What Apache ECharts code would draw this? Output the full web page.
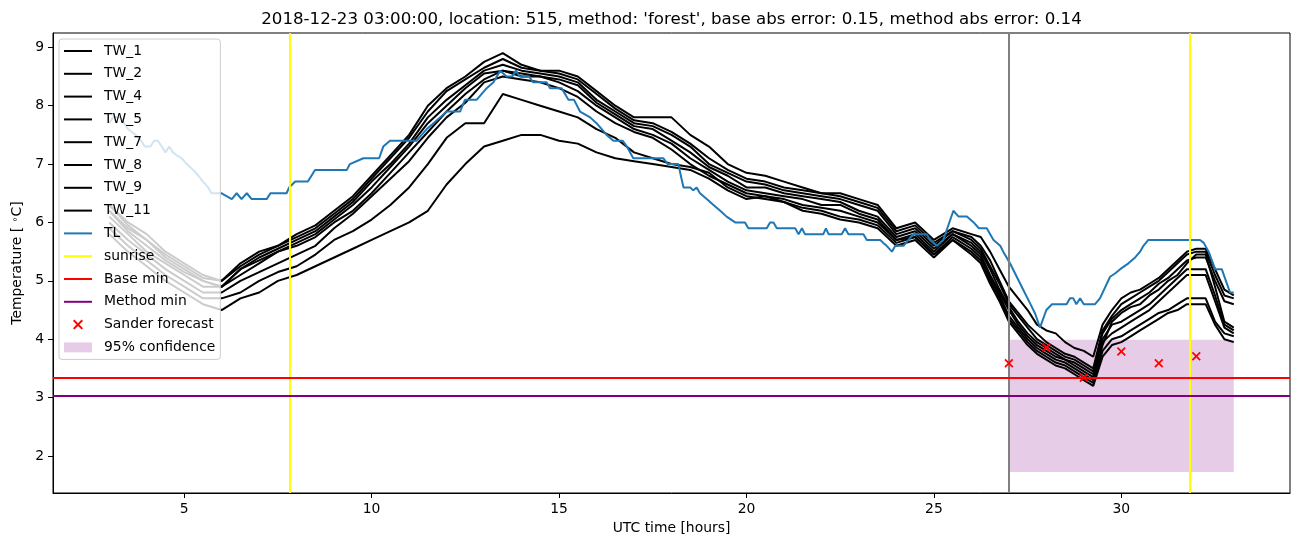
<!DOCTYPE html>
<html><head><meta charset="utf-8">
<script src="https://cdn.jsdelivr.net/npm/echarts@6/dist/echarts.min.js"></script>
<style>html,body{margin:0;padding:0;background:#fff}#c{width:1302px;height:547px}</style>
</head><body><div id="c"></div>
<script>
// ---------- data ----------
const hours = [3,3.5,4,4.5,5,5.5,6,6.5,7,7.5,8,8.5,9,9.5,10,10.5,11,11.5,12,12.5,13,13.5,14,14.5,15,15.5,16,16.5,17,17.5,18,18.5,19,19.5,20,20.5,21,21.5,22,22.5,23,23.5,24,24.5,25,25.5,26,26.25,26.5,26.75,27,27.25,27.5,27.75,28,28.25,28.5,28.75,29,29.25,29.5,29.75,30,30.25,30.5,30.75,31,31.25,31.5,31.75,32,32.25,32.5,32.75,33];
const tw1  = [6.3,6.0,5.8,5.5,5.3,5.1,5.0,5.3,5.5,5.6,5.8,5.95,6.2,6.45,6.8,7.15,7.5,8.0,8.3,8.5,8.75,8.9,8.7,8.6,8.6,8.5,8.25,8.0,7.8,7.8,7.8,7.5,7.3,7.0,6.85,6.8,6.7,6.6,6.5,6.5,6.4,6.3,5.9,6.0,5.7,5.9,5.8,5.75,5.5,5.2,4.9,4.7,4.5,4.25,4.15,4.1,3.95,3.85,3.8,3.7,4.25,4.5,4.7,4.8,4.85,4.95,5.05,5.2,5.35,5.5,5.55,5.55,5.2,4.85,4.75];
const tw2  = [6.3,5.95,5.7,5.45,5.25,5.05,5.0,5.25,5.45,5.6,5.75,5.9,6.15,6.4,6.75,7.1,7.45,7.9,8.25,8.45,8.65,8.8,8.65,8.6,8.55,8.45,8.2,7.95,7.75,7.7,7.55,7.35,7.1,6.9,6.75,6.7,6.6,6.55,6.5,6.45,6.35,6.25,5.85,5.95,5.65,5.85,5.75,5.6,5.35,5.0,4.65,4.45,4.25,4.1,3.95,3.85,3.75,3.7,3.6,3.5,4.15,4.4,4.6,4.7,4.8,4.9,5.0,5.15,5.3,5.45,5.5,5.5,5.1,4.75,4.7];
const tw4  = [6.2,5.9,5.7,5.4,5.2,5.0,4.9,5.2,5.4,5.55,5.7,5.85,6.1,6.35,6.7,7.0,7.35,7.8,8.1,8.35,8.6,8.7,8.6,8.55,8.5,8.4,8.1,7.9,7.7,7.65,7.5,7.3,7.0,6.85,6.7,6.65,6.55,6.5,6.45,6.4,6.3,6.2,5.8,5.9,5.6,5.85,5.7,5.55,5.25,4.95,4.6,4.4,4.2,4.0,3.9,3.8,3.7,3.65,3.55,3.45,4.1,4.35,4.5,4.6,4.7,4.8,4.95,5.05,5.2,5.35,5.4,5.4,5.0,4.65,4.6];
const tw5  = [6.2,5.85,5.6,5.35,5.15,5.0,4.9,5.2,5.35,5.5,5.65,5.8,6.05,6.3,6.6,6.95,7.3,7.7,8.0,8.3,8.55,8.6,8.55,8.5,8.45,8.35,8.05,7.85,7.65,7.6,7.4,7.2,6.95,6.8,6.6,6.6,6.5,6.45,6.4,6.35,6.2,6.1,5.75,5.85,5.55,5.8,5.65,5.5,5.2,4.85,4.55,4.3,4.1,3.95,3.85,3.75,3.65,3.6,3.5,3.4,4.0,4.25,4.3,4.4,4.5,4.6,4.75,4.9,5.05,5.2,5.2,5.2,4.75,4.25,4.15];
const tw7  = [6.1,5.8,5.5,5.3,5.1,4.9,4.9,5.1,5.3,5.5,5.6,5.75,6.0,6.2,6.5,6.85,7.2,7.55,7.9,8.2,8.45,8.6,8.5,8.5,8.4,8.25,8.0,7.8,7.6,7.5,7.35,7.1,6.9,6.7,6.55,6.5,6.45,6.4,6.3,6.3,6.15,6.05,5.7,5.8,5.5,5.8,5.6,5.45,5.1,4.8,4.5,4.25,4.05,3.9,3.8,3.7,3.65,3.55,3.45,3.35,3.95,4.1,4.2,4.3,4.4,4.5,4.65,4.8,4.95,5.1,5.1,5.1,4.65,4.2,4.1];
const tw8  = [6.0,5.7,5.45,5.2,5.0,4.8,4.8,5.0,5.15,5.3,5.45,5.6,5.9,6.15,6.45,6.75,7.05,7.45,7.8,8.05,8.4,8.5,8.45,8.4,8.3,8.15,7.9,7.7,7.55,7.45,7.25,7.0,6.8,6.65,6.5,6.45,6.4,6.3,6.25,6.2,6.1,6.0,5.7,5.75,5.45,5.75,5.55,5.4,5.05,4.75,4.4,4.2,4.0,3.85,3.75,3.65,3.6,3.5,3.4,3.3,3.9,4.3,4.45,4.55,4.6,4.75,4.85,5.0,5.1,5.3,5.45,5.45,4.9,4.3,4.2];
const tw9  = [5.9,5.6,5.35,5.1,4.9,4.7,4.7,4.8,5.0,5.15,5.25,5.45,5.7,5.85,6.05,6.3,6.6,7.0,7.45,7.7,7.7,8.2,8.1,8.0,7.9,7.8,7.6,7.45,7.2,7.1,7.0,6.95,6.85,6.6,6.45,6.4,6.35,6.25,6.2,6.1,6.05,5.95,5.65,5.75,5.45,5.7,5.5,5.35,5.0,4.7,4.35,4.15,3.95,3.8,3.7,3.6,3.55,3.45,3.35,3.25,3.8,4.0,4.05,4.15,4.25,4.35,4.45,4.5,4.6,4.7,4.7,4.7,4.3,4.1,4.05];
const tw11 = [5.8,5.5,5.25,5.0,4.8,4.6,4.5,4.7,4.8,5.0,5.1,5.25,5.4,5.55,5.7,5.85,6.0,6.2,6.65,7.0,7.3,7.4,7.5,7.5,7.4,7.35,7.2,7.1,7.05,7.0,6.95,6.9,6.75,6.55,6.4,6.45,6.35,6.2,6.15,6.05,6.0,5.9,5.6,5.7,5.4,5.7,5.45,5.3,4.95,4.65,4.3,4.1,3.9,3.75,3.65,3.55,3.5,3.4,3.3,3.2,3.7,3.9,3.95,4.05,4.15,4.25,4.35,4.45,4.5,4.6,4.6,4.6,4.25,4.0,3.95];
const twNames = ['TW_1','TW_2','TW_4','TW_5','TW_7','TW_8','TW_9','TW_11'];
const twValues = [tw1,tw2,tw4,tw5,tw7,tw8,tw9,tw11];
const tlPoints = [[3.0,7.7],[3.1,7.8],[3.3,7.8],[3.4,7.7],[3.5,7.6],[3.7,7.5],[3.85,7.4],[3.95,7.3],[4.1,7.3],[4.2,7.4],[4.3,7.4],[4.4,7.3],[4.5,7.2],[4.6,7.3],[4.7,7.2],[4.8,7.15],[4.93,7.1],[5.07,7.0],[5.24,6.9],[5.38,6.8],[5.5,6.7],[5.64,6.6],[5.73,6.5],[6.0,6.5],[6.27,6.4],[6.4,6.5],[6.53,6.4],[6.67,6.5],[6.8,6.4],[7.2,6.4],[7.3,6.5],[7.73,6.5],[7.8,6.6],[7.96,6.7],[8.3,6.7],[8.49,6.9],[9.34,6.9],[9.42,7.0],[9.78,7.1],[10.2,7.1],[10.31,7.3],[10.49,7.4],[11.2,7.4],[11.47,7.6],[11.65,7.7],[11.83,7.8],[12.0,7.9],[12.36,7.9],[12.49,8.1],[12.8,8.1],[13.07,8.3],[13.25,8.4],[13.43,8.6],[13.6,8.5],[13.75,8.5],[13.85,8.6],[13.95,8.5],[14.2,8.5],[14.31,8.4],[14.67,8.4],[14.76,8.3],[15.07,8.3],[15.25,8.1],[15.4,8.1],[15.56,7.9],[15.83,7.8],[16.0,7.7],[16.27,7.5],[16.45,7.4],[16.7,7.4],[16.81,7.3],[16.98,7.1],[17.78,7.1],[17.9,7.0],[18.18,7.0],[18.32,6.6],[18.5,6.6],[18.58,6.55],[18.67,6.6],[18.76,6.5],[18.94,6.4],[19.12,6.3],[19.3,6.2],[19.47,6.1],[19.7,6.0],[19.96,6.0],[20.05,5.9],[20.54,5.9],[20.63,6.0],[20.72,6.0],[20.81,5.9],[21.3,5.9],[21.39,5.8],[21.48,5.9],[21.56,5.8],[22.05,5.8],[22.12,5.9],[22.19,5.8],[22.54,5.8],[22.63,5.9],[22.72,5.8],[23.12,5.8],[23.21,5.7],[23.57,5.7],[23.65,5.65],[23.74,5.6],[23.88,5.5],[23.97,5.6],[24.19,5.6],[24.45,5.8],[24.81,5.8],[24.9,5.7],[25.08,5.6],[25.25,5.7],[25.52,6.2],[25.66,6.1],[25.88,6.1],[26.06,6.0],[26.2,5.9],[26.41,5.9],[26.59,5.7],[26.77,5.6],[26.85,5.5],[27.03,5.3],[27.21,5.07],[27.39,4.84],[27.57,4.61],[27.7,4.44],[27.83,4.2],[28.0,4.5],[28.15,4.6],[28.54,4.6],[28.63,4.7],[28.72,4.7],[28.8,4.6],[28.9,4.7],[29.0,4.6],[29.3,4.6],[29.43,4.7],[29.7,5.07],[29.84,5.13],[29.97,5.2],[30.19,5.3],[30.37,5.4],[30.5,5.5],[30.59,5.6],[30.72,5.7],[32.1,5.7],[32.2,5.65],[32.33,5.5],[32.5,5.2],[32.68,5.2],[32.9,4.8],[33.0,4.8]];
const sunriseHours = [7.82, 31.82];
const forecastHour = [27];
const baseMin = [3.336];
const methodMin = [3.045];
const sanderHours = [27, 28, 29, 30, 31, 32];
const sanderValues = [3.59, 3.86, 3.34, 3.79, 3.59, 3.71];
const confHours = [27, 33];
const confRange = [1.726, 3.99];
const xTicks = [5, 10, 15, 20, 25, 30];
const yTicks = [2, 3, 4, 5, 6, 7, 8, 9];
const titleText = "2018-12-23 03:00:00, location: 515, method: 'forest', base abs error: 0.15, method abs error: 0.14";

// ---------- chart ----------
const FONT = 'DejaVu Sans';
const chart = echarts.init(document.getElementById('c'), null, {renderer: 'canvas'});
const series = [];
series.push({
  name: '95% confidence', type: 'line', data: [], z: 1, color: 'rgba(128,0,128,0.2)',
  markArea: {silent: true, itemStyle: {color: 'rgba(128,0,128,0.2)'},
    data: [[{xAxis: confHours[0], yAxis: confRange[0]}, {xAxis: confHours[1], yAxis: confRange[1]}]]},
  markLine: {silent: true, symbol: 'none', label: {show: false}, z: 3,
    lineStyle: {color: '#808080', width: 2, type: 'solid'},
    data: forecastHour.map(h => ({xAxis: h}))}
});
twNames.forEach((n, i) => {
  series.push({name: n, type: 'line', symbol: 'none', showSymbol: false, z: 2,
    color: '#000', lineStyle: {color: '#000', width: 2},
    data: hours.map((h, j) => [h, twValues[i][j]])});
});
series.push({name: 'TL', type: 'line', symbol: 'none', showSymbol: false, z: 2,
  color: '#1f77b4', lineStyle: {color: '#1f77b4', width: 2}, data: tlPoints});
series.push({name: 'sunrise', type: 'line', data: [], color: '#ffff00', lineStyle: {color: '#ffff00', width: 2}, symbol: 'none',
  markLine: {silent: true, symbol: 'none', label: {show: false}, z: 3,
    lineStyle: {color: '#ffff00', width: 2, type: 'solid'}, data: sunriseHours.map(h => ({xAxis: h}))}});
series.push({name: 'Base min', type: 'line', data: [], color: '#ff0000', lineStyle: {color: '#ff0000', width: 2}, symbol: 'none',
  markLine: {silent: true, symbol: 'none', label: {show: false}, z: 3,
    lineStyle: {color: '#ff0000', width: 2, type: 'solid'}, data: baseMin.map(v => ({yAxis: v}))}});
series.push({name: 'Method min', type: 'line', data: [], color: '#800080', lineStyle: {color: '#800080', width: 2}, symbol: 'none',
  markLine: {silent: true, symbol: 'none', label: {show: false}, z: 3,
    lineStyle: {color: '#800080', width: 2, type: 'solid'}, data: methodMin.map(v => ({yAxis: v}))}});
const X_PATH = 'path://M1.4,0L5,3.6L8.6,0L10,1.4L6.4,5L10,8.6L8.6,10L5,6.4L1.4,10L0,8.6L3.6,5L0,1.4Z';
series.push({name: 'Sander forecast', type: 'scatter', symbol: X_PATH, symbolSize: 9, symbolKeepAspect: true, z: 4,
  color: '#ff0000', itemStyle: {color: '#ff0000', opacity: 1},
  data: sanderHours.map((h, i) => [h, sanderValues[i]])});

// legend handle: a 2px bar centred in a 28x10 box (invisible moveTo points fix the box size)
const LINE_ICON = 'path://M0,0M0,4L28,4L28,6L0,6ZM28,10';
const legendData = twNames.map(n => ({name: n, icon: LINE_ICON})).concat([
  {name: 'TL', icon: LINE_ICON}, {name: 'sunrise', icon: LINE_ICON}, {name: 'Base min', icon: LINE_ICON}, {name: 'Method min', icon: LINE_ICON},
  {name: 'Sander forecast', icon: X_PATH},
  {name: '95% confidence', icon: 'rect', itemStyle: {color: 'rgba(128,0,128,0.2)'}}
]);

chart.setOption({
  animation: false,
  backgroundColor: '#fff',
  textStyle: {fontFamily: FONT},
  grid: {left: 53, right: 12, top: 33, bottom: 54, show: true, borderColor: '#000', borderWidth: 1, backgroundColor: 'transparent'},
  xAxis: {type: 'value', min: 1.5, max: 34.5,
    name: 'UTC time [hours]', nameLocation: 'middle', nameGap: 28,
    nameTextStyle: {fontFamily: FONT, fontSize: 13.9, color: '#000'},
    axisLine: {show: true, lineStyle: {color: '#000', width: 1}},
    axisTick: {show: true, length: 5, lineStyle: {color: '#000'}, customValues: xTicks},
    axisLabel: {show: true, margin: 9, fontFamily: FONT, fontSize: 13.9, color: '#000', customValues: xTicks},
    splitLine: {show: false}},
  yAxis: {type: 'value', min: 1.366, max: 9.245,
    name: 'Temperature [ {s|∘}C]', nameLocation: 'middle', nameGap: 27,
    nameTextStyle: {fontFamily: FONT, fontSize: 13.9, color: '#000', rich: {s: {fontFamily: FONT, fontSize: 9.5, verticalAlign: 'top', color: '#000'}}},
    axisLine: {show: true, lineStyle: {color: '#000', width: 1}},
    axisTick: {show: true, length: 5, lineStyle: {color: '#000'}, customValues: yTicks},
    axisLabel: {show: true, margin: 9, fontFamily: FONT, fontSize: 13.9, color: '#000', customValues: yTicks},
    splitLine: {show: false}},
  legend: {
    orient: 'vertical', left: 59, top: 39, itemWidth: 28, itemHeight: 10, itemGap: 8.8,
    padding: [5, 5, 5, 5],
    backgroundColor: 'rgba(255,255,255,0.8)', borderColor: '#cccccc', borderWidth: 1, borderRadius: 3,
    textStyle: {fontFamily: FONT, fontSize: 13.9, color: '#000', lineHeight: 14, padding: [0, 0, 0, 7]},
    selectedMode: false,
    data: legendData
  },
  graphic: [{type: 'text', x: 671.5, y: 20, silent: true,
    style: {text: titleText, font: '16.67px "DejaVu Sans"', fill: '#000', textAlign: 'center', textVerticalAlign: 'middle'}}],
  series: series
});
</script>
</body></html>
